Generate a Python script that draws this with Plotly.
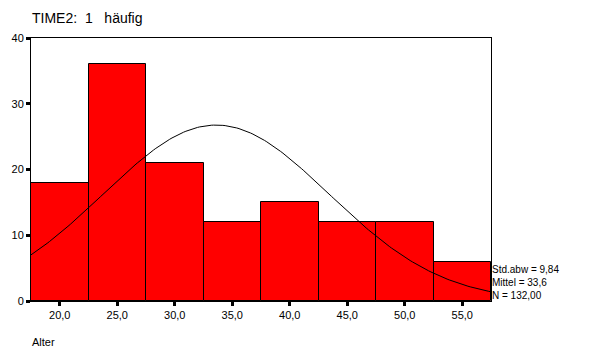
import numpy as np
import plotly.graph_objects as go

bin_centers = [20, 25, 30, 35, 40, 45, 50, 55]
counts = [18, 36, 21, 12, 15, 12, 12, 6]
bin_width = 5
tick_vals = [20, 25, 30, 35, 40, 45, 50, 55]
tick_text = ["20,0", "25,0", "30,0", "35,0", "40,0", "45,0", "50,0", "55,0"]
y_ticks = [0, 10, 20, 30, 40]
mean_val = 33.6
sd_val = 9.84
n_val = 132

xs = np.linspace(17.5, 57.5, 200)
ys = n_val * bin_width / (sd_val * np.sqrt(2 * np.pi)) * np.exp(-0.5 * ((xs - mean_val) / sd_val) ** 2)

fig = go.Figure()
fig.add_trace(go.Bar(x=bin_centers, y=counts, width=bin_width,
                     marker=dict(color="#ff0000", line=dict(color="black", width=1))))
fig.add_trace(go.Scatter(x=xs, y=ys, mode="lines", line=dict(color="black", width=1)))

fig.update_layout(
    width=577, height=340,
    margin=dict(l=23, r=94, t=30, b=47, autoexpand=False),
    paper_bgcolor="white", plot_bgcolor="white",
    showlegend=False, bargap=0,
    font=dict(family="Liberation Sans, Arial", size=11, color="black"),
    title=dict(text="TIME2:  1   häufig", x=0.0416, xanchor="left", y=0.971, yanchor="middle",
               font=dict(size=14, color="black")),
)
fig.update_xaxes(range=[17.5, 57.5], tickvals=tick_vals, ticktext=tick_text, automargin=False,
                 ticks="outside", ticklen=4, tickwidth=3, tickcolor="black",
                 showline=True, linecolor="black", linewidth=1, mirror=True,
                 showgrid=False, zeroline=False)
fig.update_yaxes(range=[0, 40], tickvals=y_ticks, automargin=False,
                 ticks="outside", ticklen=4, tickwidth=3, tickcolor="black",
                 showline=True, linecolor="black", linewidth=1, mirror=True,
                 showgrid=False, zeroline=False)

fig.add_annotation(text="Alter", xref="paper", yref="paper", x=-0.002, y=-0.156,
                   xanchor="left", yanchor="middle", showarrow=False, font=dict(size=11))
fig.add_annotation(text="Std.abw = 9,84<br>Mittel = 33,6<br>N = 132,00",
                   xref="paper", yref="paper", x=0.998, y=0.148, xanchor="left", yanchor="top",
                   align="left", showarrow=False, font=dict(size=10))

fig.write_html("out.html")
